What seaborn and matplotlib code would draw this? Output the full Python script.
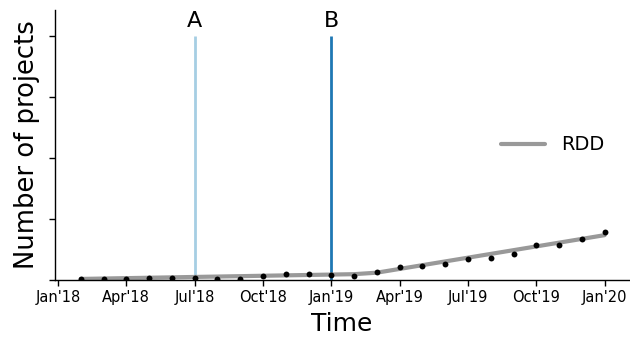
import matplotlib
matplotlib.use("Agg")
import matplotlib.pyplot as plt
import seaborn as sns
import numpy as np
import pandas as pd

# Data (months since Jan'18)
months = list(range(1, 25))
projects = [0.3, 0.4, 0.4, 0.8, 0.8, 0.7, 0.4, 0.4, 1.2, 2.0, 2.0, 1.5,
            1.2, 2.75, 4.4, 4.7, 5.2, 6.8, 7.2, 8.4, 11.6, 11.6, 13.6, 15.6]
rdd = [0.35, 0.48, 0.61, 0.74, 0.87, 1.0, 1.13, 1.26, 1.39, 1.52, 1.65, 1.78,
       1.91, 2.4, 3.63, 4.86, 6.09, 7.32, 8.55, 9.78, 11.01, 12.24, 13.47, 14.7]
tick_pos = [0, 3, 6, 9, 12, 15, 18, 21, 24]
tick_labels = ["Jan'18", "Apr'18", "Jul'18", "Oct'18", "Jan'19",
               "Apr'19", "Jul'19", "Oct'19", "Jan'20"]
events = ["A", "B"]
event_months = [6, 12]
event_colors = ["#a6cee3", "#1f78b4"]
yticks = [0, 20, 40, 60, 80]

sns.set_style("white")
plt.rcParams['font.family'] = ['DejaVu Sans']
plt.rcParams['text.color'] = 'black'
plt.rcParams['axes.labelcolor'] = 'black'
plt.rcParams['xtick.color'] = 'black'
plt.rcParams['ytick.color'] = 'black'

fig = plt.figure(figsize=(6.3, 3.39), dpi=100)
ax = fig.add_axes([55/630, 59/339, 574/630, 270/339])

df = pd.DataFrame({"month": months, "projects": projects, "rdd": rdd})
sns.lineplot(data=df, x="month", y="rdd", ax=ax, color="#999999", lw=3,
             label="RDD", zorder=2)
sns.scatterplot(data=df, x="month", y="projects", ax=ax, color="black",
                s=18, linewidth=0, zorder=3, legend=False)

for name, m, c in zip(events, event_months, event_colors):
    ax.vlines(m, 0, 80, color=c, lw=2, zorder=1)
    ax.text(m, 81.5, name, ha="center", va="bottom", fontsize=16, color="black")

ax.set_xlim(-0.13, 25.07)
ax.set_ylim(0, 88.5)
ax.set_xticks(tick_pos)
ax.set_xticklabels(tick_labels, fontsize=10.5)
ax.set_yticks(yticks)
ax.set_yticklabels([])
ax.tick_params(axis="both", direction="out", length=4, width=1, colors="black",
               bottom=True, left=True)
ax.set_xlabel("Time", fontsize=18, labelpad=5, color="black")
ax.set_ylabel("Number of projects", fontsize=18.6, labelpad=3, color="black")
for s in ["top", "right"]:
    ax.spines[s].set_visible(False)
for s in ["left", "bottom"]:
    ax.spines[s].set_color("black")
    ax.spines[s].set_linewidth(1)

leg = ax.legend(loc="center left", bbox_to_anchor=(0.746, 0.5), frameon=False,
                fontsize=14, handlelength=2.3, handletextpad=0.8)
for t in leg.get_texts():
    t.set_color("black")

fig.savefig("out.png", dpi=100)
